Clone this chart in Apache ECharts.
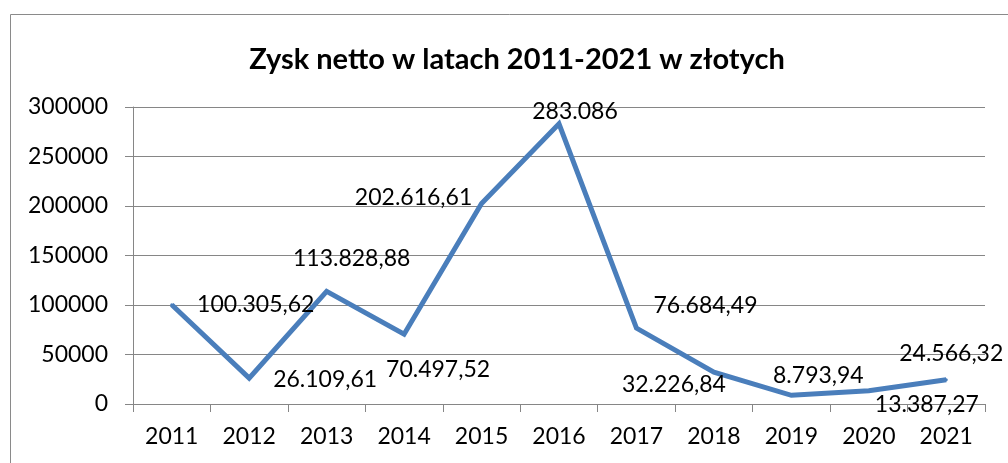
<!DOCTYPE html>
<html>
<head>
<meta charset="utf-8">
<script src="https://cdn.jsdelivr.net/npm/echarts@6/dist/echarts.min.js"></script>
<style>
  html, body { margin: 0; padding: 0; background: #fff; }
  #chart { width: 1008px; height: 463px; }
</style>
</head>
<body>
<div id="chart"></div>
<script>
var years = ['2011', '2012', '2013', '2014', '2015', '2016', '2017', '2018', '2019', '2020', '2021'];
var profit = [100305.62, 26109.61, 113828.88, 70497.52, 202616.61, 283086, 76684.49, 32226.84, 8793.94, 13387.27, 24566.32];
var yTicks = [0, 50000, 100000, 150000, 200000, 250000, 300000];

// where each data label sits relative to its point (px)
var labelOffsets = [[84, 0], [76, 1], [25, -33], [34, 35], [-68, -6], [16, -12],
    [69, -23], [-40, 12], [27, -20], [58, 14], [5, -26]];

var FONT = 'Lato';

function plFormat(v) {
    var neg = v < 0;
    v = Math.abs(v);
    var isInt = Math.round(v * 100) % 100 === 0;
    var parts = (isInt ? Math.round(v).toString() : v.toFixed(2)).split('.');
    var intPart = parts[0].replace(/\B(?=(\d{3})+(?!\d))/g, '.');
    return (neg ? '-' : '') + intPart + (parts[1] ? ',' + parts[1] : '');
}

var chartDom = document.getElementById('chart');
var myChart = echarts.init(chartDom);

var seriesData = profit.map(function (v, i) {
    return {
        value: v,
        label: { offset: labelOffsets[i] }
    };
});

var option = {
    backgroundColor: '#fff',
    animation: false,
    title: {
        text: 'Zysk netto w latach 2011-2021 w złotych',
        left: 512,
        top: 40,
        textAlign: 'center',
        textStyle: { fontFamily: FONT, fontWeight: 'bold', fontSize: 29, color: '#000' }
    },
    graphic: [{
        type: 'rect',
        shape: { x: 10.5, y: 14.5, width: 1010, height: 500 },
        style: { fill: 'none', stroke: '#8a8a8a', lineWidth: 1 },
        silent: true
    }],
    grid: { left: 133, top: 107, width: 852, height: 297, containLabel: false },
    xAxis: {
        type: 'category',
        data: years,
        boundaryGap: true,
        axisLine: { lineStyle: { color: '#868686', width: 1 } },
        axisTick: { show: true, length: 8, inside: false, lineStyle: { color: '#868686' } },
        axisLabel: { fontFamily: FONT, fontSize: 23, color: '#000', margin: 21 },
        splitLine: { show: false }
    },
    yAxis: {
        type: 'value',
        min: 0,
        max: yTicks[yTicks.length - 1],
        interval: yTicks[1] - yTicks[0],
        axisLine: { show: true, lineStyle: { color: '#868686', width: 1 } },
        axisTick: { show: true, length: 8, lineStyle: { color: '#868686' } },
        axisLabel: {
            fontFamily: FONT, fontSize: 23, color: '#000', margin: 25,
            formatter: function (v) { return String(v); }
        },
        splitLine: { show: true, lineStyle: { color: '#868686', width: 1 } }
    },
    series: [{
        type: 'line',
        data: seriesData,
        symbol: 'circle',
        symbolSize: 3,
        showSymbol: true,
        itemStyle: { color: '#4A7EBB' },
        lineStyle: { color: '#4A7EBB', width: 5, join: 'miter' },
        label: {
            show: true,
            position: 'inside',
            align: 'center',
            verticalAlign: 'middle',
            fontFamily: FONT,
            fontSize: 23,
            color: '#000',
            formatter: function (p) { return plFormat(p.value); }
        }
    }]
};

option && myChart.setOption(option);
</script>
</body>
</html>
